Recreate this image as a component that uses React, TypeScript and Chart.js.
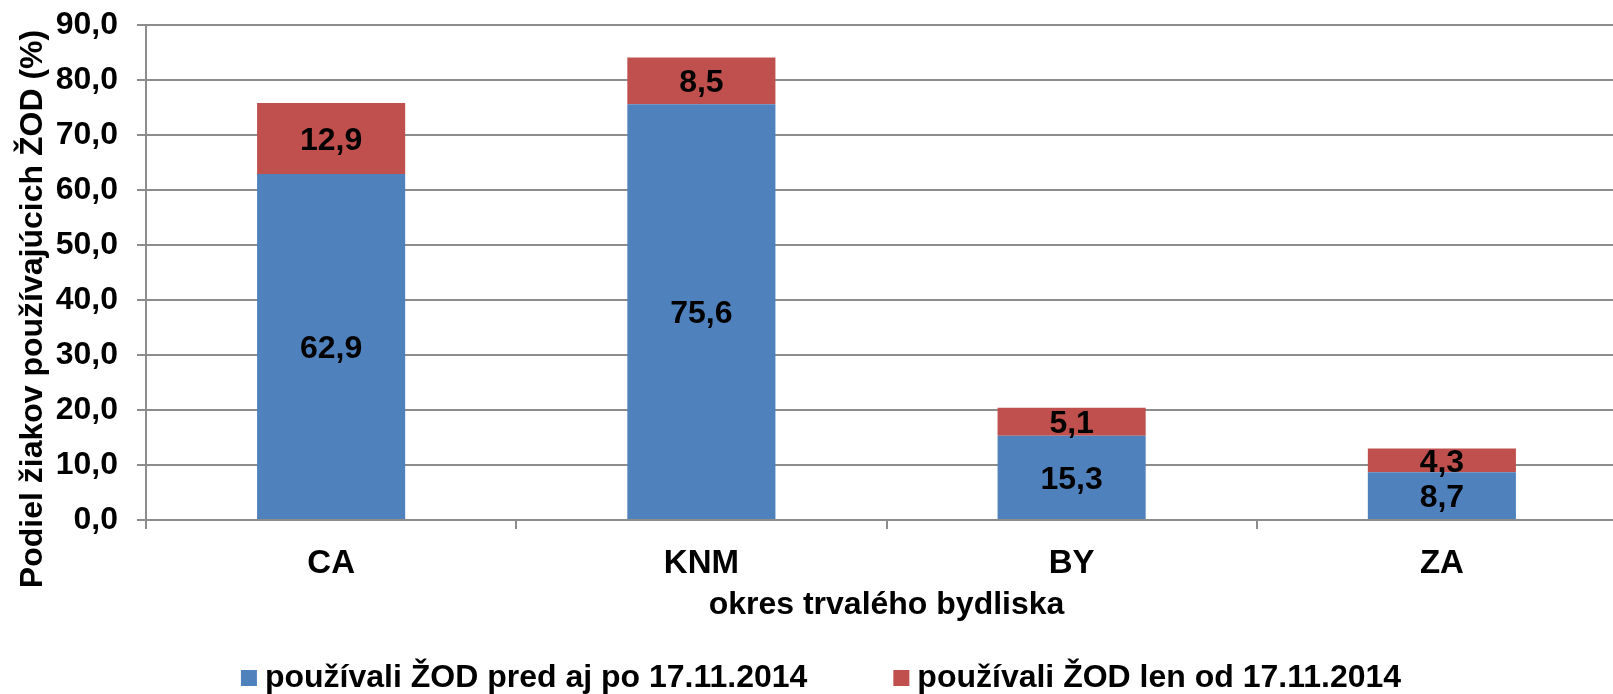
import React, { useEffect, useRef } from "react";
import { Chart, registerables } from "chart.js";

Chart.register(...registerables);

// ---- data ----
const categories = ["CA", "KNM", "BY", "ZA"];
const seriesBefore = [62.9, 75.6, 15.3, 8.7];
const seriesOnlyAfter = [12.9, 8.5, 5.1, 4.3];
const seriesNames = [
  "používali ŽOD pred aj po 17.11.2014",
  "používali ŽOD len od 17.11.2014",
];
const seriesColors = ["#4f81bd", "#c0504d"];
const yMin = 0;
const yMax = 90;
const yStep = 10;
const yAxisTitle = "Podiel žiakov používajúcich ŽOD (%)";
const xAxisTitle = "okres trvalého bydliska";

const FAMILY = "'Liberation Sans', Arial, Helvetica, sans-serif";
const GRID = "#8c8c8c";
const fmt = (v: number) => v.toFixed(1).replace(".", ",");

const CANVAS_W = 1642;
const CANVAS_H = 694;

const customPlugin = {
  id: "customText",
  afterDatasetsDraw(chart: any) {
    const ctx = chart.ctx;
    const F = 32;
    ctx.save();
    ctx.font = `bold ${F}px ${FAMILY}`;
    ctx.fillStyle = "#000";
    ctx.textAlign = "center";
    ctx.textBaseline = "alphabetic";
    chart.data.datasets.forEach((ds: any, di: number) => {
      const meta = chart.getDatasetMeta(di);
      meta.data.forEach((bar: any, i: number) => {
        const p = bar.getProps(["x", "y", "base"], true);
        const cy = (p.y + p.base) / 2;
        ctx.fillText(fmt(ds.data[i]), p.x, cy + F * 0.358);
      });
    });
    ctx.restore();
  },
  afterDraw(chart: any) {
    const ctx = chart.ctx;
    const area = chart.chartArea;
    ctx.save();
    ctx.fillStyle = "#000";

    // y axis title
    ctx.font = `bold 32px ${FAMILY}`;
    ctx.translate(42, 309);
    ctx.rotate(-Math.PI / 2);
    ctx.textAlign = "center";
    ctx.textBaseline = "alphabetic";
    ctx.fillText(yAxisTitle, 0, 0);
    const dpr = chart.currentDevicePixelRatio || 1;
    ctx.setTransform(dpr, 0, 0, dpr, 0, 0);

    // x axis title
    ctx.font = `bold 32px ${FAMILY}`;
    ctx.textAlign = "center";
    ctx.fillText(xAxisTitle, (area.left + area.right) / 2, 614);

    // legend
    const LF = 32;
    ctx.font = `bold ${LF}px ${FAMILY}`;
    const box = 16;
    const boxGap = 8;
    const itemGap = 86;
    const widths = seriesNames.map((n) => box + boxGap + ctx.measureText(n).width);
    const total = widths.reduce((a, b) => a + b, 0) + itemGap * (widths.length - 1);
    let x = CANVAS_W / 2 - total / 2;
    ctx.textAlign = "left";
    seriesNames.forEach((n, i) => {
      ctx.fillStyle = seriesColors[i];
      ctx.fillRect(x, 670, box, box);
      ctx.fillStyle = "#000";
      ctx.fillText(n, x + box + boxGap, 687);
      x += widths[i] + itemGap;
    });
    ctx.restore();
  },
};

export default function App() {
  const ref = useRef<HTMLCanvasElement | null>(null);
  useEffect(() => {
    if (!ref.current) return;
    const chart = new Chart(ref.current, {
      type: "bar",
      data: {
        labels: categories,
        datasets: [
          {
            label: seriesNames[0],
            data: seriesBefore,
            backgroundColor: seriesColors[0],
            categoryPercentage: 1,
            barPercentage: 0.4,
          },
          {
            label: seriesNames[1],
            data: seriesOnlyAfter,
            backgroundColor: seriesColors[1],
            categoryPercentage: 1,
            barPercentage: 0.4,
          },
        ],
      },
      options: {
        animation: false,
        responsive: true,
        maintainAspectRatio: false,
        devicePixelRatio: 1,
        layout: { padding: { left: 0, right: 15, top: 25, bottom: 0 } },
        plugins: {
          legend: { display: false },
          tooltip: { enabled: false },
          title: { display: false },
        },
        scales: {
          x: {
            stacked: true,
            offset: true,
            grid: {
              offset: true,
              drawOnChartArea: false,
              drawTicks: true,
              tickLength: 9,
              color: GRID,
              lineWidth: 2,
            },
            border: { display: true, color: GRID, width: 2 },
            ticks: {
              color: "#000",
              padding: 15,
              font: { family: FAMILY, size: 33, weight: "bold" },
              maxRotation: 0,
            },
            afterFit(scale: any) {
              scale.height = CANVAS_H - 520;
            },
          },
          y: {
            stacked: true,
            min: yMin,
            max: yMax,
            grid: {
              color: GRID,
              lineWidth: 2,
              drawTicks: true,
              tickLength: 9,
            },
            border: { display: true, color: GRID, width: 2 },
            ticks: {
              stepSize: yStep,
              color: "#000",
              padding: 19,
              font: { family: FAMILY, size: 32, weight: "bold" },
              callback: (v: any) => fmt(Number(v)),
            },
            afterFit(scale: any) {
              scale.width = 146;
              scale.paddingTop = 0;
              scale.paddingBottom = 0;
            },
          },
        },
      },
      plugins: [customPlugin],
    });
    return () => chart.destroy();
  }, []);

  return (
    <div
      style={{
        position: "fixed",
        left: 0,
        top: 0,
        width: 1613,
        height: CANVAS_H,
        overflow: "hidden",
        background: "#fff",
      }}
    >
      <div style={{ position: "relative", width: CANVAS_W, height: CANVAS_H }}>
        <canvas ref={ref} />
      </div>
    </div>
  );
}
